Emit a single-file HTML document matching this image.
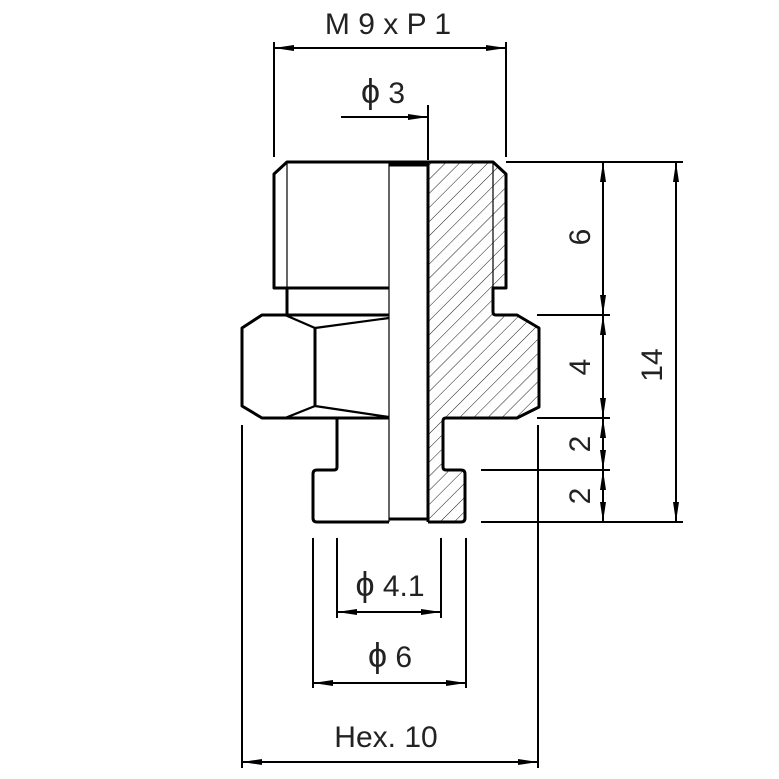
<!DOCTYPE html>
<html><head><meta charset="utf-8"><style>
html,body{margin:0;padding:0;background:#fff;width:779px;height:779px;overflow:hidden}
svg text{font-family:"Liberation Sans","DejaVu Sans",sans-serif;fill:#222}
</style></head><body>
<svg width="779" height="779" viewBox="0 0 779 779" xmlns="http://www.w3.org/2000/svg">
<defs>
<pattern id="h" width="10" height="10" patternUnits="userSpaceOnUse" patternTransform="rotate(45)">
<line x1="0" y1="0" x2="0" y2="10" stroke="#000" stroke-width="0.9"/>
</pattern>
<marker id="a" viewBox="0 0 20 8" refX="20" refY="4" markerWidth="20" markerHeight="8" orient="auto-start-reverse" markerUnits="userSpaceOnUse">
<path d="M0,1 L20,4 L0,7 z" fill="#000"/></marker>
</defs>
<path d="M428,162 L493,162 L506,174 L506,288 L493,288 L493,315 L517,315 L539,328 L539,407 L517,418 L443,418 L443,470 L465,470 L465,522 L428,522 Z" fill="url(#h)" stroke="none"/>
<g fill="none" stroke="#000" stroke-width="3" stroke-linejoin="round">
<path d="M428,162 L287,162 L274,174 L274,288 L389,288"/>
<path d="M428,162 L493,162 L506,174 L506,288 L493,288 L493,312 Q493,315 496,315 L517,315 L539,328 L539,407 L517,418 L446,418 Q443,418 443,421 L443,467 Q443,470 446,470 L461,470 Q465,470 465,474 L465,518 Q465,522 461,522 L428,522"/>
<path d="M287,288 L287,315 L262,315 L242,328 L242,406 L262,418 L389,418"/>
<path d="M262,315 L389,315"/>
<path d="M315,328 L315,406"/>
<path d="M337,418 L337,467 Q337,470 334,470 L317,470 Q313,470 313,474 L313,518 Q313,522 317,522 L389,522"/>
<path d="M428,162 L428,522"/>
<path d="M389,165 L428,165 M389,519 L428,519"/>
</g>
<g fill="none" stroke="#000" stroke-width="2.2">
<path d="M315,328 L389,318 M315,406 L389,417 M262,315 L285,315 L315,328 M262,418 L285,418 L315,406"/>
</g>
<g fill="none" stroke="#000" stroke-width="1.2">
<path d="M389,162 L389,522 M287,162 L287,288 M493,162 L493,288"/>
</g>
<g stroke="#000" stroke-width="2" fill="none">
<path d="M506,162 L683,162 M537,315 L610,315 M537,418 L610,418 M481,470 L610,470 M481,522 L683,522"/>
<path d="M538,425 L538,768 M242,425 L242,768"/>
<path d="M337,538 L337,618 M441,538 L441,618 M313,538 L313,688 M466,538 L466,688"/>
<path d="M274,42 L274,157 M506,42 L506,157 M428,105 L428,160"/>
<path d="M603,162 L603,315" marker-start="url(#a)" marker-end="url(#a)"/>
<path d="M603,315 L603,418" marker-start="url(#a)" marker-end="url(#a)"/>
<path d="M603,418 L603,470" marker-start="url(#a)" marker-end="url(#a)"/>
<path d="M603,470 L603,522" marker-start="url(#a)" marker-end="url(#a)"/>
<path d="M676,162 L676,522" marker-start="url(#a)" marker-end="url(#a)"/>
<path d="M274,48 L506,48" marker-start="url(#a)" marker-end="url(#a)"/>
<path d="M341,117 L428,117" marker-end="url(#a)"/>
<path d="M337,612 L441,612" marker-start="url(#a)" marker-end="url(#a)"/>
<path d="M313,683 L466,683" marker-start="url(#a)" marker-end="url(#a)"/>
<path d="M242,762 L538,762" marker-start="url(#a)" marker-end="url(#a)"/>
</g>
<g font-size="30" text-anchor="middle">
<text x="388" y="34">M 9 x P 1</text>
<text x="383" y="103"><tspan font-size="34">ϕ</tspan> 3</text>
<text x="390" y="596"><tspan font-size="34">ϕ</tspan> 4.1</text>
<text x="390" y="667"><tspan font-size="34">ϕ</tspan> 6</text>
<text x="386" y="747">Hex. 10</text>
<text transform="translate(590,237) rotate(-90)">6</text>
<text transform="translate(590,367) rotate(-90)">4</text>
<text transform="translate(590,444) rotate(-90)">2</text>
<text transform="translate(590,496) rotate(-90)">2</text>
<text transform="translate(662,365) rotate(-90)">14</text>
</g>
</svg>
</body></html>
